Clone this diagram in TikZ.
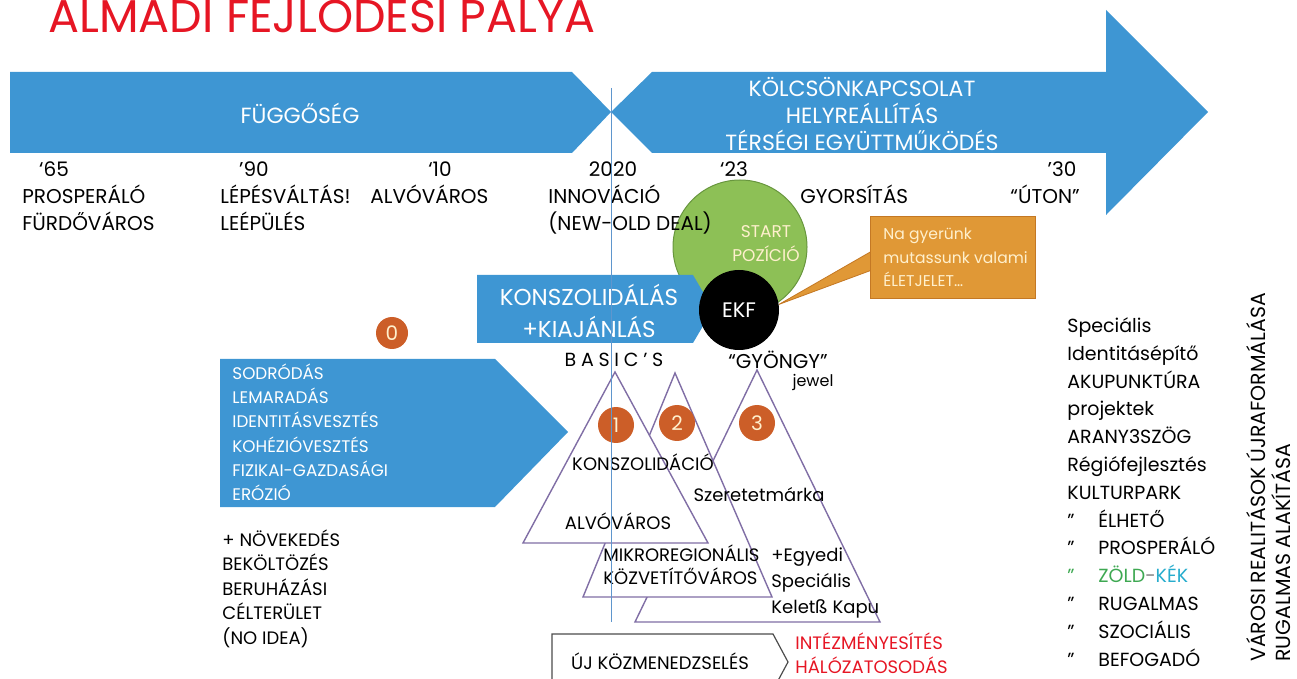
\documentclass[tikz,border=0pt]{standalone}
\usepackage{fontspec}
\setmainfont{Poppins}
\definecolor{arrowblue}{RGB}{62,150,211}
\definecolor{lineblue}{RGB}{95,150,205}
\definecolor{dotorange}{RGB}{204,94,40}
\definecolor{callorange}{RGB}{224,152,54}
\definecolor{callrim}{RGB}{196,120,36}
\definecolor{startgreen}{RGB}{141,192,86}
\definecolor{startrim}{RGB}{104,150,62}
\definecolor{peaklilac}{RGB}{128,110,165}
\definecolor{titlered}{RGB}{230,22,36}
\definecolor{paleyellow}{RGB}{255,240,205}
\definecolor{zoldgreen}{RGB}{62,168,82}
\definecolor{kekcyan}{RGB}{38,172,205}
\begin{document}
\begin{tikzpicture}[x=0.5pt,y=-0.5pt,
  bluetxt/.style={text=white,inner sep=0,align=center,font=\fontsize{11}{13.5}\selectfont},
  yearlbl/.style={inner sep=0,anchor=base,font=\fontsize{10}{13.5}\selectfont},
  stagelbl/.style={inner sep=0,anchor=base west,align=left,font=\fontsize{10}{13.5}\selectfont},
  driftlbl/.style={inner sep=0,anchor=base west,align=left,text=white,font=\fontsize{8.4}{12.2}\selectfont},
  peaklbl/.style={inner sep=0,anchor=base west,align=left,font=\fontsize{9}{13}\selectfont},
  dot/.style={circle,fill=dotorange,text=paleyellow,inner sep=0,minimum size=18pt,font=\fontsize{10}{12}\selectfont},
  peak/.style={fill=white,draw=peaklilac,line width=0.7pt}]

\useasboundingbox (0,0) rectangle (1297,679);
\clip (0,0) rectangle (1297,679);

\node[inner sep=0, anchor=base west, text=titlered, font=\fontsize{23}{26}\selectfont] (title) at (48,33) {ALMADI FEJLODESI PALYA};

\fill[arrowblue] (10,72) -- (572,72) -- (611,112) -- (572,153) -- (10,153) -- cycle;
\fill[arrowblue] (611,112) -- (652,72) -- (1106,72) -- (1106,10) -- (1208,112) -- (1106,215) -- (1106,153) -- (652,153) -- cycle;
\node[bluetxt] (fugg) at (300,113) {FÜGGŐSÉG};
\node[bluetxt] (kolcs) at (862,114) {KÖLCSÖNKAPCSOLAT\\HELYREÁLLÍTÁS\\TÉRSÉGI EGYÜTTMŰKÖDÉS};

\node[circle, fill=startgreen, draw=startrim, line width=0.5pt, minimum size=67pt, inner sep=0] (startdisc) at (740,247) {};
\node[inner sep=0, align=center, text=paleyellow, font=\fontsize{8.5}{12}\selectfont] (starttxt) at (766,244) {START\\POZÍCIÓ};
\fill[arrowblue] (477,275) -- (693,275) -- (713,309) -- (693,343) -- (477,343) -- cycle;
\node[inner sep=0, align=center, text=white, font=\fontsize{11.5}{16}\selectfont] (konsz) at (589,311) {KONSZOLIDÁLÁS\\+KIAJÁNLÁS};
\node[circle, fill=black, minimum size=40pt, inner sep=0, text=white, font=\fontsize{10.5}{12}\selectfont] (ekf) at (739,310) {EKF};

\coordinate (callfoot1) at (872,251);
\coordinate (callfoot2) at (872,270);
\filldraw[fill=callorange, draw=callrim, line width=0.4pt] (callfoot1) -- (ekf.8) -- (callfoot2) -- cycle;
\node[rectangle, fill=callorange, draw=callrim, line width=0.4pt, minimum width=82.5pt, minimum height=41pt, inner sep=0] (call) at (953,257) {};
\node[inner sep=0, anchor=base west, align=left, text=paleyellow, font=\fontsize{7.8}{11.8}\selectfont] (calltxt) at (883,287) {Na gyerünk\\mutassunk valami\\ÉLETJELET…};

\node[yearlbl] (y65) at (54,177) {‘65};
\node[yearlbl] (y90) at (254,177) {’90};
\node[yearlbl] (y10) at (440,177) {‘10};
\node[yearlbl] (y2020) at (613,177) {2020};
\node[yearlbl] (y23) at (734,177) {‘23};
\node[yearlbl] (y30) at (1062,177) {’30};
\node[stagelbl] (prosp) at (22,231) {PROSPERÁLÓ\\FÜRDŐVÁROS};
\node[stagelbl] (lepes) at (220,231) {LÉPÉSVÁLTÁS!\\LEÉPÜLÉS};
\node[stagelbl] (alvo) at (370,204) {ALVÓVÁROS};
\node[stagelbl] (innov) at (548,231) {INNOVÁCIÓ\\(NEW-OLD DEAL)};
\node[stagelbl] (gyors) at (800,204) {GYORSÍTÁS};
\node[stagelbl] (uton) at (1010,204) {“ÚTON”};

\node[dot, minimum size=16pt] (num0) at (392,333) {0};
\fill[arrowblue] (220,359) -- (495,359) -- (568,432) -- (495,507) -- (220,507) -- cycle;
\node[driftlbl] (drift) at (232,501) {SODRÓDÁS\\LEMARADÁS\\IDENTITÁSVESZTÉS\\KOHÉZIÓVESZTÉS\\FIZIKAI-GAZDASÁGI\\ERÓZIÓ};
\node[inner sep=0, anchor=base west, align=left, font=\fontsize{9}{12.25}\selectfont] (growth) at (222,644) {+ NÖVEKEDÉS\\BEKÖLTÖZÉS\\BERUHÁZÁSI\\CÉLTERÜLET\\(NO IDEA)};

\node[inner sep=0, font=\fontsize{9.5}{12}\selectfont\addfontfeature{LetterSpace=25}] (basics) at (614,360) {BASIC’S};
\node[inner sep=0, font=\fontsize{10}{12}\selectfont] (gyongy) at (778,360) {“GYÖNGY”};
\node[inner sep=0, font=\fontsize{8}{10}\selectfont] (jewel) at (813,382) {jewel};

\path[peak] (757,370) -- (880,622) -- (635,622) -- cycle;
\path[peak] (675,373) -- (772,597) -- (583,597) -- cycle;
\path[peak] (615,372) -- (708,543) -- (523,543) -- cycle;
\node[dot] (num1) at (616,425) {1};
\node[dot] (num2) at (677,423) {2};
\node[dot] (num3) at (757,423) {3};
\node[inner sep=0, font=\fontsize{9}{12}\selectfont] (konszol) at (643,462) {KONSZOLIDÁCIÓ};
\node[inner sep=0, font=\fontsize{9}{12}\selectfont] (alvo2) at (618,521) {ALVÓVÁROS};
\node[inner sep=0, font=\fontsize{9}{12}\selectfont] (szeret) at (759,495) {Szeretetmárka};
\node[inner sep=0, anchor=base west, align=left, font=\fontsize{9}{11.5}\selectfont] (mikro) at (603,584) {MIKROREGIONÁLIS\\KÖZVETÍTŐVÁROS};
\node[peaklbl] (egyedi) at (771,613) {+Egyedi\\Speciális\\Keletß Kapu};

\node[inner sep=0, anchor=base west, align=left, font=\fontsize{9.5}{13.9}\selectfont] (akup) at (1067,666) {Speciális\\Identitásépítő\\AKUPUNKTÚRA\\projektek\\ARANY3SZÖG\\Régiófejlesztés\\KULTURPARK\\\makebox[15.5pt][l]{"}ÉLHETŐ\\\makebox[15.5pt][l]{"}PROSPERÁLÓ\\\makebox[15.5pt][l]{\color{zoldgreen}"}\textcolor{zoldgreen}{ZÖLD}\textcolor{gray}{-}\textcolor{kekcyan}{KÉK}\\\makebox[15.5pt][l]{"}RUGALMAS\\\makebox[15.5pt][l]{"}SZOCIÁLIS\\\makebox[15.5pt][l]{"}BEFOGADÓ};
\node[inner sep=0, anchor=north west, rotate=90, align=left, font=\fontsize{10.2}{12.5}\selectfont] (varosi) at (1246,662) {VÁROSI REALITÁSOK ÚJRAFORMÁLÁSA\\RUGALMAS ALAKÍTÁSA};

\draw[draw=gray!60!black, line width=0.6pt] (552,634) -- (773,634) -- (788,662) -- (773,690) -- (552,690) -- cycle;
\node[inner sep=0, font=\fontsize{9}{12}\selectfont] (ujkoz) at (660,661) {ÚJ KÖZMENEDZSELÉS};
\node[inner sep=0, anchor=base west, align=left, text=titlered, font=\fontsize{9}{12}\selectfont] (intezm) at (795,673) {INTÉZMÉNYESÍTÉS\\HÁLÓZATOSODÁS};

\coordinate (mark2020top) at (611,88);
\coordinate (mark2020foot) at (611,622);
\draw[lineblue, line width=0.5pt] (mark2020top) -- (mark2020foot);
\end{tikzpicture}
\end{document}
